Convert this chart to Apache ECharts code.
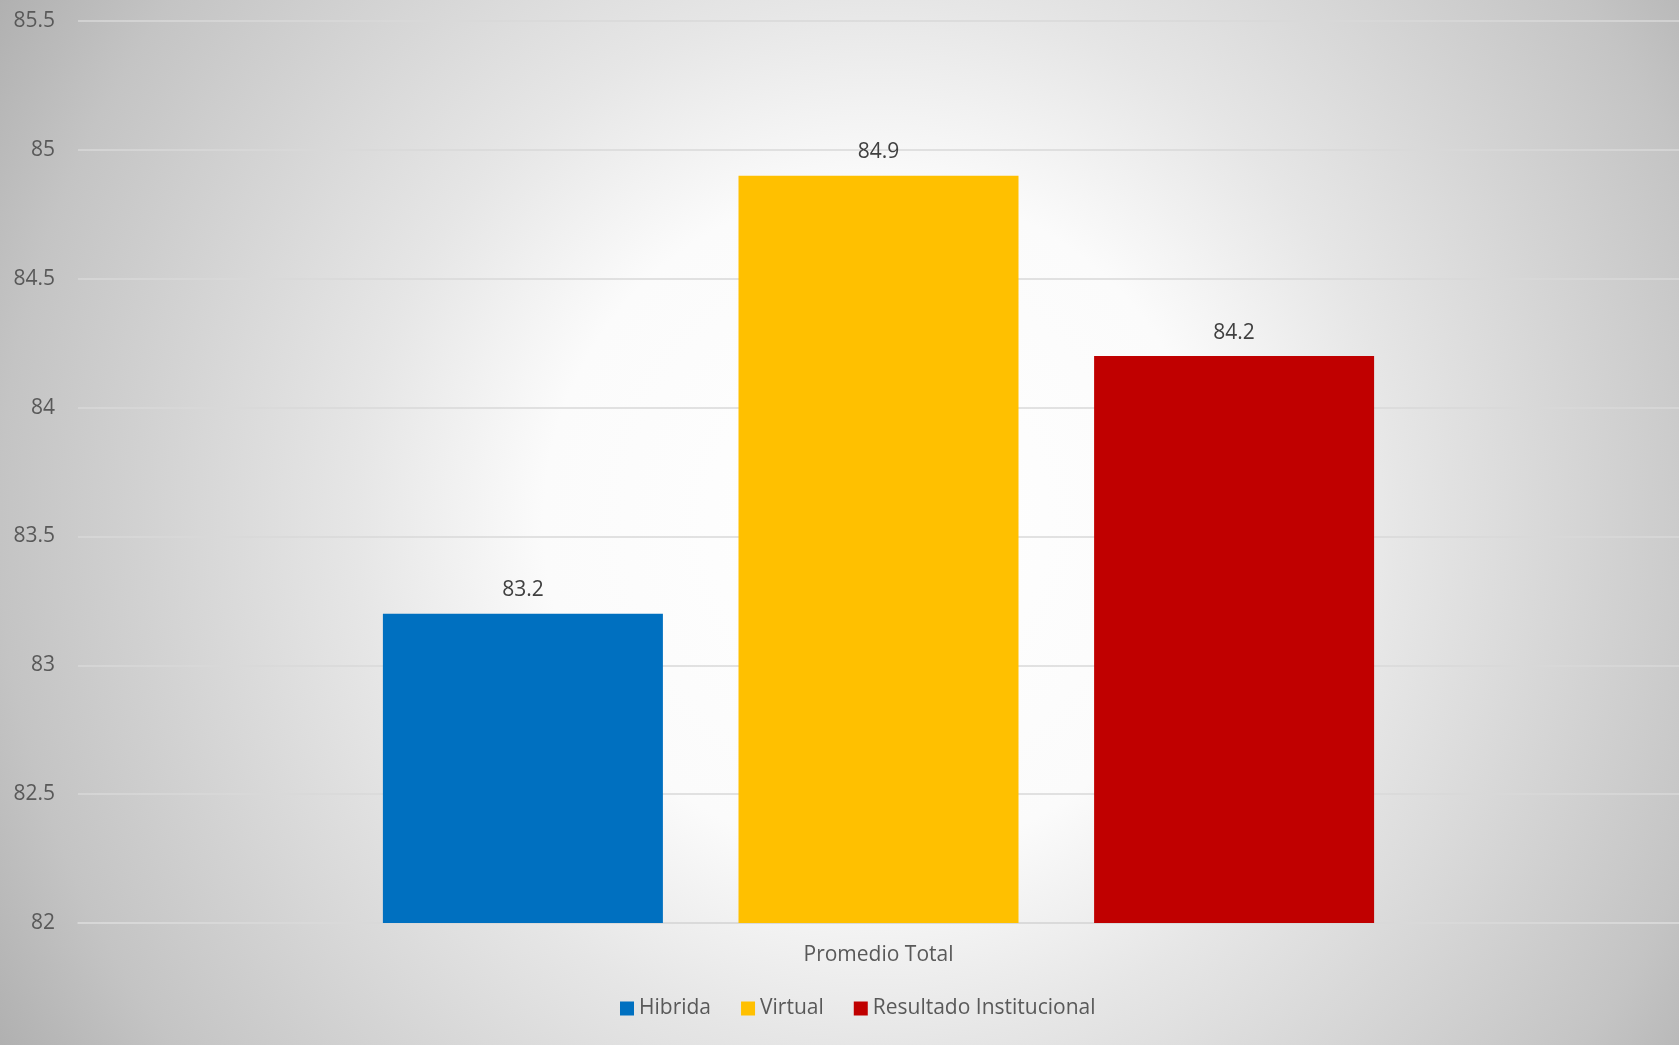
<!DOCTYPE html>
<html>
<head>
<meta charset="utf-8">
<script src="https://cdn.jsdelivr.net/npm/echarts@6/dist/echarts.min.js"></script>
<style>
html,body{margin:0;padding:0;width:100%;height:100%;overflow:hidden;}
#chart{width:1679px;height:1045px;}
</style>
</head>
<body>
<div id="chart"></div>
<script>
const categories = ['Promedio Total'];
const seriesNames = ['Hibrida', 'Virtual', 'Resultado Institucional'];
const hibrida = [83.2];
const virtual = [84.9];
const institucional = [84.2];
const yTicks = [82, 82.5, 83, 83.5, 84, 84.5, 85, 85.5];

const colors = ['#0070C0', '#FFC000', '#C00000'];
const values = [hibrida, virtual, institucional];
const textColor = '#595959';
const font = 'Open Sans';

const chart = echarts.init(document.getElementById('chart'));
chart.setOption({
  backgroundColor: {
    type: 'radial', x: 0.523, y: 0.5, r: 1,
    colorStops: [
      {offset: 0, color: '#ffffff'},
      {offset: 0.32, color: '#fbfbfb'},
      {offset: 0.5, color: '#e6e6e6'},
      {offset: 0.84, color: '#c4c4c4'},
      {offset: 0.98, color: '#b0b0b0'},
      {offset: 1, color: '#aeaeae'}
    ]
  },
  textStyle: {fontFamily: font},
  grid: {left: 78, right: 0, top: 21, bottom: 122, containLabel: false},
  legend: {
    bottom: 21, left: 615,
    itemWidth: 14, itemHeight: 14, itemGap: 30,
    icon: 'rect',
    textStyle: {color: textColor, fontSize: 21, fontFamily: font},
    data: seriesNames
  },
  xAxis: {
    type: 'category',
    data: categories,
    axisLine: {show: true, lineStyle: {color: '#d9d9d9', width: 1.5}},
    axisTick: {show: false},
    axisLabel: {color: textColor, fontSize: 21, margin: 22, fontFamily: font}
  },
  yAxis: {
    type: 'value',
    min: yTicks[0], max: yTicks[yTicks.length - 1], interval: 0.5,
    axisLine: {show: false},
    axisTick: {show: false},
    axisLabel: {color: textColor, fontSize: 21, margin: 23, fontFamily: font},
    splitLine: {lineStyle: {color: '#d9d9d9', width: 1.5}}
  },
  series: seriesNames.map((n, i) => ({
    name: n,
    type: 'bar',
    data: values[i],
    barWidth: 280,
    barGap: '27%',
    itemStyle: {color: colors[i]},
    label: {show: true, position: 'top', distance: 13, color: '#404040', fontSize: 21, fontFamily: font}
  }))
});
</script>
</body>
</html>
